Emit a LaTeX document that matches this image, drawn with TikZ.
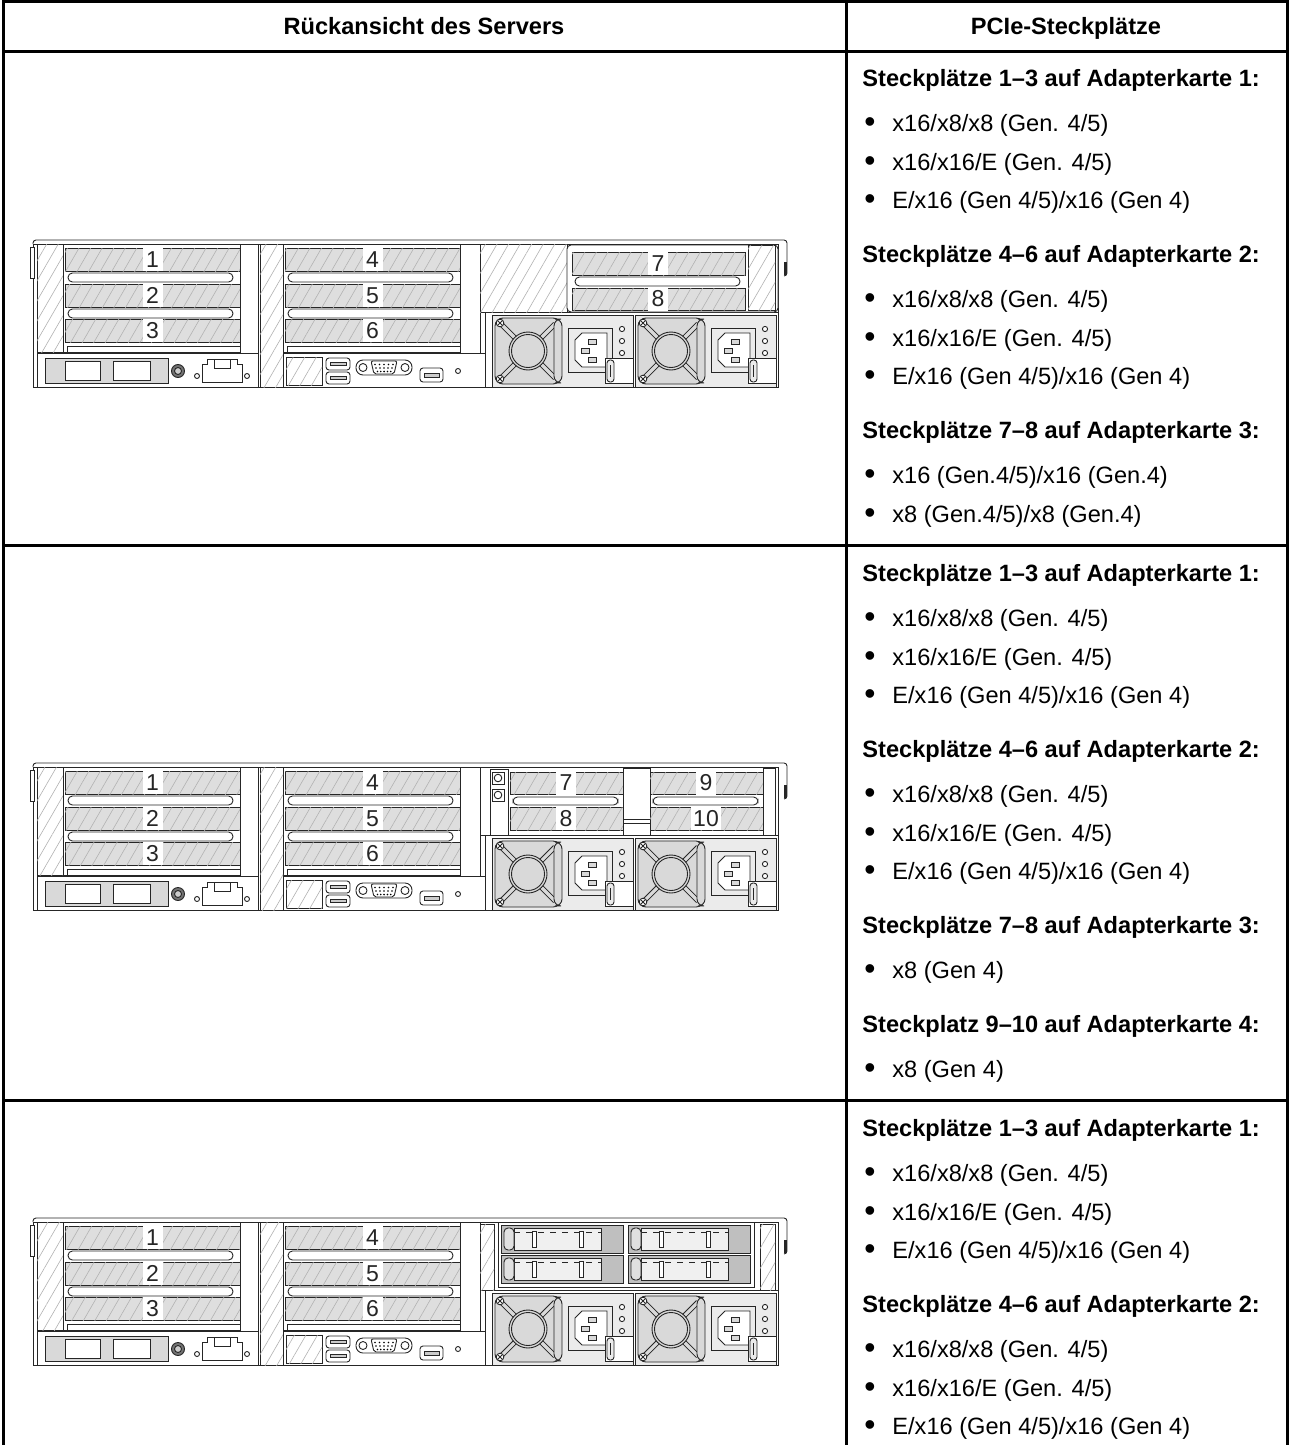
\documentclass[tikz,border=0pt]{standalone}
\usepackage{fontspec}
\setmainfont{Liberation Sans}
\usetikzlibrary{patterns.meta}

\newcommand{\bul}{\makebox[14pt][l]{\raisebox{-0.7pt}{\scalebox{1.35}{\textbullet}}}}

\tikzset{
  part/.style={draw=black!85,line width=0.45pt},
  hatch/.style={part,fill=white,postaction={pattern={Lines[angle=60,distance=5pt,line width=0.3pt]},pattern color=black!30}},
  slotbox/.style={part,fill=black!13,postaction={pattern={Lines[angle=60,distance=5pt,line width=0.3pt]},pattern color=black!30}},
  slotnum/.style={fill=white,inner xsep=1pt,inner ysep=0pt,minimum width=10pt,minimum height=11.5pt,text=black!85,font=\fontsize{11.5}{11.5}\selectfont},
  psu/.pic={
    \draw[part,fill=black!8] (0,0) rectangle (141,72);
    \draw[part,fill=black!15,rounded corners=4pt] (3,3) rectangle (69,69);
    \foreach \a/\b/\c/\d in {9/9/24/24,63/9/48/24,9/63/24/48,63/63/48/48}
      \draw[part,double=black!15,double distance=1.6pt] (\a,\b) -- (\c,\d);
    \draw[part,fill=black!15] (36,36) circle (19);
    \draw[part] (36,36) circle (16.5);
    \foreach \sy in {8,64} {
      \draw[part,fill=white] (8,\sy) circle (3.8);
      \draw[part] (6,\sy-2) -- (10,\sy+2) (10,\sy-2) -- (6,\sy+2);
    }
    \draw[part,fill=black!15,rounded corners=3.5pt] (62,4) rectangle (70,68);
    \draw[part,fill=black!8] (76,13) rectangle (120,57);
    \draw[part,fill=white] (90,18) -- (115,18) -- (115,52) -- (90,52) -- (83,45) -- (83,25) -- cycle;
    \draw[part,fill=black!15] (96,24) rectangle (104,29);
    \draw[part,fill=black!15] (89,33) rectangle (97,38);
    \draw[part,fill=black!15] (96,42) rectangle (104,47);
    \foreach \ly in {14,26,38} \draw[part,fill=white] (130,\ly) circle (2.6);
    \draw[part,fill=white] (113,43) rectangle (141,68);
    \draw[part,fill=black!8,rounded corners=1.5pt] (115,45) rectangle (122,67);
    \draw[part] (118.5,50) -- (118.5,62);
  },
  drivebay/.pic={
    \draw[part,fill=black!25] (0,0) rectangle (122,28);
    \draw[part,fill=black!6] (13,3) rectangle (100,25);
    \draw[part,dashed] (13,7) -- (100,7);
    \draw[part,fill=black!12,rounded corners=2pt] (3,3) rectangle (13,25);
    \draw[part,fill=white] (31,6) rectangle (35,22);
    \draw[part,fill=white] (78,6) rectangle (82,22);
  }
}

% common parts of the rear view (slots 1-6, I/O, PSU bay)
\newcommand{\serverbase}{%
  \draw[part,rounded corners=1.5pt] (3,4) -- (3,0) -- (757,0) -- (757,36) -- (754,36);
  \fill[black!85] (754,22) rectangle (757,35);
  \draw[part,fill=white] (3,4) rectangle (748,147);
  \draw[part,fill=white] (0,7) rectangle (4,38);
  % left blank
  \draw[hatch] (7,4) rectangle (33,112);
  % riser cages
  \draw[part,fill=white] (33,4) rectangle (210,112);
  \draw[part,fill=white] (253,4) rectangle (430,112);
  \foreach \n/\sy in {1/8,2/44,3/79} {
    \draw[slotbox] (35,\sy) rectangle (210,\sy+23);
    \node[slotnum] (slot\n) at (122.5,\sy+11.5) {\n};
  }
  \foreach \n/\sy in {4/8,5/44,6/79} {
    \draw[slotbox] (255,\sy) rectangle (430,\sy+23);
    \node[slotnum] (slot\n) at (342.5,\sy+11.5) {\n};
  }
  \foreach \by in {33,69} {
    \draw[part,fill=white,rounded corners=2.2pt] (38,\by) rectangle (203,\by+9);
    \draw[part,fill=white,rounded corners=2.2pt] (258,\by) rectangle (423,\by+9);
  }
  \draw[part,fill=white] (37,106) rectangle (210,112);
  \draw[part,fill=white] (257,106) rectangle (430,112);
  \draw[part,fill=white] (210,4) rectangle (228,116);
  \draw[part,fill=white] (430,4) rectangle (450,116);
  % middle blank
  \draw[hatch] (230,4) rectangle (253,147);
  % lower left I/O
  \draw[part,fill=white] (7,113) rectangle (228,147);
  \draw[part,fill=black!15] (15,118) rectangle (138,143);
  \draw[part,fill=white] (35,121) rectangle (70,140);
  \draw[part,fill=white] (83,121) rectangle (120,140);
  \draw[part,fill=black!55] (148,131) circle (6.5);
  \draw[part,fill=black!20] (148,131) circle (3.5);
  \draw[part] (172,124) -- (177,124) -- (177,119) -- (207,119) -- (207,124) -- (212,124) -- (212,142) -- (172,142) -- cycle;
  \draw[part] (184,119) rectangle (200,128);
  \draw[part] (167,136) circle (2.5) (217,136) circle (2.5);
  % lower right I/O
  \draw[part,fill=white] (253,113) rectangle (455,147);
  \draw[hatch] (256,117) rectangle (292,145);
  \foreach \uy in {118,132} {
    \draw[part,fill=white,rounded corners=1.5pt] (296,\uy) rectangle (320,\uy+12);
    \draw[part,fill=black!20] (300,\uy+4) rectangle (316,\uy+7);
  }
  \draw[part,fill=white,rounded corners=3.5pt] (326,120) rectangle (382,135);
  \draw[part] (333,127.5) circle (4) (375,127.5) circle (4);
  \draw[part,fill=white,rounded corners=1pt] (341,121) -- (367,121) -- (364,134) -- (344,134) -- cycle;
  \foreach \i in {0,...,4} {
    \fill (345+\i*4.5,124.5) circle (0.9);
    \fill (346+\i*4,128) circle (0.9);
    \fill (347.5+\i*3.3,131.5) circle (0.9);
  }
  \draw[part,fill=white,rounded corners=1.5pt] (390,128) rectangle (413,142);
  \draw[part,fill=black!20] (394,133) rectangle (409,137);
  \draw[part] (428,131) circle (2.5);
  % power supplies
  \draw[part,fill=white] (455,72) rectangle (748,147);
  \pic at (462,75) {psu};
  \pic at (605,75) {psu};
}

\begin{document}
\begin{tikzpicture}[x=0.5pt,y=-0.5pt,
  tableline/.style={line width=1.5pt},
  colhead/.style={anchor=base,inner sep=0pt,font=\bfseries\fontsize{11.8}{14}\selectfont},
  head/.style={anchor=base west,inner sep=0pt,font=\bfseries\fontsize{11.8}{14}\selectfont},
  item/.style={anchor=base west,inner sep=0pt,font=\fontsize{11.8}{14}\selectfont}]

  \useasboundingbox (0,0) rectangle (1290,1445);

  % table
  \draw[tableline] (3,1445) -- (3,2) -- (1287,2) -- (1287,1445);
  \draw[tableline] (846,2) -- (846,1445);
  \foreach \ly in {52,545,1100} \draw[tableline] (3,\ly) -- (1287,\ly);

  \node[colhead] (hview) at (424,35) {Rückansicht des Servers};
  \node[colhead] (hslots) at (1066,35) {PCIe-Steckplätze};

  % row 1
  \begin{scope}[shift={(30,240)},name prefix=a-]
    \serverbase
    \draw[hatch] (450,4) rectangle (537,72);
    \draw[part,fill=white,rounded corners=2pt] (537,5) rectangle (748,72);
    \draw[slotbox] (542,12) rectangle (715,35);
    \draw[part,fill=white,rounded corners=2.2pt] (545,37) rectangle (710,46);
    \draw[slotbox] (542,48) rectangle (715,70);
    \node[slotnum] (slot7) at (628,23.5) {7};
    \node[slotnum] (slot8) at (628,59) {8};
    \draw[hatch] (718,5) rectangle (745,70);
  \end{scope}

  \node[head] (a-h1) at (862,86.5) {Steckplätze 1–3 auf Adapterkarte 1:};
  \node[item] (a-b1) at (864,131.5) {\bul x16/x8/x8 (Gen. 4/5)};
  \node[item] (a-b2) at (864,170) {\bul x16/x16/E (Gen. 4/5)};
  \node[item] (a-b3) at (864,208.5) {\bul E/x16 (Gen 4/5)/x16 (Gen 4)};
  \node[head] (a-h2) at (862,262.5) {Steckplätze 4–6 auf Adapterkarte 2:};
  \node[item] (a-b4) at (864,307.5) {\bul x16/x8/x8 (Gen. 4/5)};
  \node[item] (a-b5) at (864,346) {\bul x16/x16/E (Gen. 4/5)};
  \node[item] (a-b6) at (864,384.5) {\bul E/x16 (Gen 4/5)/x16 (Gen 4)};
  \node[head] (a-h3) at (862,438.5) {Steckplätze 7–8 auf Adapterkarte 3:};
  \node[item] (a-b7) at (864,483.5) {\bul x16 (Gen.4/5)/x16 (Gen.4)};
  \node[item] (a-b8) at (864,522) {\bul x8 (Gen.4/5)/x8 (Gen.4)};

  % row 2
  \begin{scope}[shift={(30,763)},name prefix=b-]
    \serverbase
    \draw[part,fill=white] (450,4) rectangle (748,72);
    \draw[part,fill=white] (460,6) rectangle (478,72);
    \foreach \sy in {15,32} {
      \draw[part] (462,\sy-6) rectangle (474,\sy+6);
      \draw[part] (468,\sy) circle (3.8);
    }
    \draw[slotbox] (480,9) rectangle (593,31);
    \draw[part,fill=white,rounded corners=2.2pt] (483,34) rectangle (588,42);
    \draw[slotbox] (480,44) rectangle (593,67);
    \draw[part,fill=white] (593,5) rectangle (620,72);
    \draw[part] (593,56) -- (620,56) (593,60) -- (620,60);
    \draw[slotbox] (620,9) rectangle (733,31);
    \draw[part,fill=white,rounded corners=2.2pt] (623,34) rectangle (728,42);
    \draw[slotbox] (620,44) rectangle (733,67);
    \node[slotnum] (slot7) at (536,20) {7};
    \node[slotnum] (slot8) at (536,55.5) {8};
    \node[slotnum] (slot9) at (676,20) {9};
    \node[slotnum] (slot10) at (676,55.5) {10};
    \draw[part,fill=white] (733,5) rectangle (745,72);
  \end{scope}

  \node[head] (b-h1) at (862,581.5) {Steckplätze 1–3 auf Adapterkarte 1:};
  \node[item] (b-b1) at (864,626.5) {\bul x16/x8/x8 (Gen. 4/5)};
  \node[item] (b-b2) at (864,665) {\bul x16/x16/E (Gen. 4/5)};
  \node[item] (b-b3) at (864,703.5) {\bul E/x16 (Gen 4/5)/x16 (Gen 4)};
  \node[head] (b-h2) at (862,757.5) {Steckplätze 4–6 auf Adapterkarte 2:};
  \node[item] (b-b4) at (864,802.5) {\bul x16/x8/x8 (Gen. 4/5)};
  \node[item] (b-b5) at (864,841) {\bul x16/x16/E (Gen. 4/5)};
  \node[item] (b-b6) at (864,879.5) {\bul E/x16 (Gen 4/5)/x16 (Gen 4)};
  \node[head] (b-h3) at (862,933.5) {Steckplätze 7–8 auf Adapterkarte 3:};
  \node[item] (b-b7) at (864,978.5) {\bul x8 (Gen 4)};
  \node[head] (b-h4) at (862,1032.5) {Steckplatz 9–10 auf Adapterkarte 4:};
  \node[item] (b-b8) at (864,1077.5) {\bul x8 (Gen 4)};

  % row 3
  \begin{scope}[shift={(30,1218)},name prefix=c-]
    \serverbase
    \draw[part,fill=white] (450,4) rectangle (748,72);
    \draw[hatch] (450,6) rectangle (464,72);
    \draw[part,fill=white] (468,4) rectangle (724,69);
    \pic at (471,7) {drivebay};
    \pic at (598,7) {drivebay};
    \pic at (471,37) {drivebay};
    \pic at (598,37) {drivebay};
    \draw[hatch] (730,6) rectangle (745,72);
  \end{scope}

  \node[head] (c-h1) at (862,1136.5) {Steckplätze 1–3 auf Adapterkarte 1:};
  \node[item] (c-b1) at (864,1181.5) {\bul x16/x8/x8 (Gen. 4/5)};
  \node[item] (c-b2) at (864,1220) {\bul x16/x16/E (Gen. 4/5)};
  \node[item] (c-b3) at (864,1258.5) {\bul E/x16 (Gen 4/5)/x16 (Gen 4)};
  \node[head] (c-h2) at (862,1312.5) {Steckplätze 4–6 auf Adapterkarte 2:};
  \node[item] (c-b4) at (864,1357.5) {\bul x16/x8/x8 (Gen. 4/5)};
  \node[item] (c-b5) at (864,1396) {\bul x16/x16/E (Gen. 4/5)};
  \node[item] (c-b6) at (864,1434.5) {\bul E/x16 (Gen 4/5)/x16 (Gen 4)};
\end{tikzpicture}
\end{document}
